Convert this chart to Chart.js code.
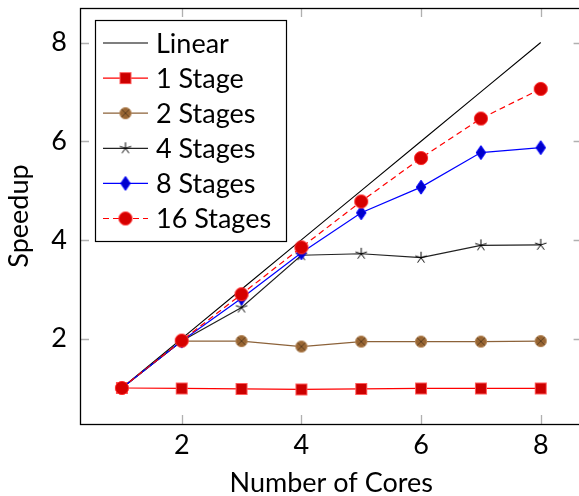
<!DOCTYPE html>
<html>
<head>
<meta charset="utf-8">
<script src="https://cdn.jsdelivr.net/npm/chart.js"></script>
<style>
  html, body { margin: 0; padding: 0; background: #fff; overflow: hidden; }
  #wrap { position: relative; width: 590px; height: 496px; }
</style>
</head>
<body>
<div id="wrap"><canvas id="myChart"></canvas></div>
<script>
// data
const cores = [1, 2, 3, 4, 5, 6, 7, 8];
const linear = [1, 2, 3, 4, 5, 6, 7, 8];
const stage1 = [1.0, 0.99, 0.98, 0.97, 0.98, 0.99, 0.99, 0.99];
const stage2 = [1.0, 1.95, 1.95, 1.84, 1.94, 1.94, 1.94, 1.95];
const stage4 = [1.0, 1.95, 2.63, 3.69, 3.72, 3.64, 3.89, 3.90];
const stage8 = [1.0, 1.95, 2.82, 3.74, 4.55, 5.07, 5.77, 5.87];
const stage16 = [1.0, 1.96, 2.90, 3.85, 4.78, 5.66, 6.46, 7.06];
const xTicks = [2, 4, 6, 8];
const yTicks = [2, 4, 6, 8];

const FONT = 'Lato';

// little canvases used as point markers (pgfplots style marks)
function marker(w, h, draw) {
  const c = document.createElement('canvas');
  c.width = w;
  c.height = h;
  draw(c.getContext('2d'), w / 2, h / 2);
  return c;
}

const squareMark = marker(14, 14, (ctx, cx, cy) => {
  ctx.fillStyle = '#cc0000';
  ctx.strokeStyle = '#ff5a5a';
  ctx.lineWidth = 1;
  ctx.fillRect(cx - 5.5, cy - 5.5, 11, 11);
  ctx.strokeRect(cx - 5.5, cy - 5.5, 11, 11);
});

const otimesMark = marker(14, 14, (ctx, cx, cy) => {
  ctx.beginPath();
  ctx.arc(cx, cy, 5.6, 0, Math.PI * 2);
  ctx.fillStyle = '#996633';
  ctx.fill();
  ctx.strokeStyle = '#b08050';
  ctx.lineWidth = 1;
  ctx.stroke();
  const d = 3.9;
  ctx.beginPath();
  ctx.moveTo(cx - d, cy - d); ctx.lineTo(cx + d, cy + d);
  ctx.moveTo(cx + d, cy - d); ctx.lineTo(cx - d, cy + d);
  ctx.strokeStyle = '#5e3f20';
  ctx.stroke();
});

const starMark = marker(14, 14, (ctx, cx, cy) => {
  ctx.strokeStyle = '#000';
  ctx.lineWidth = 1;
  ctx.beginPath();
  for (let k = 0; k < 5; k++) {
    const a = -Math.PI / 2 + k * 2 * Math.PI / 5;
    ctx.moveTo(cx, cy);
    ctx.lineTo(cx + 6 * Math.cos(a), cy + 6 * Math.sin(a));
  }
  ctx.stroke();
});

const diamondMark = marker(12, 16, (ctx, cx, cy) => {
  ctx.beginPath();
  ctx.moveTo(cx, cy - 7);
  ctx.lineTo(cx + 4.8, cy);
  ctx.lineTo(cx, cy + 7);
  ctx.lineTo(cx - 4.8, cy);
  ctx.closePath();
  ctx.fillStyle = '#0000cc';
  ctx.fill();
  ctx.strokeStyle = '#0000ff';
  ctx.lineWidth = 1;
  ctx.stroke();
});

const dotMark = marker(16, 16, (ctx, cx, cy) => {
  ctx.beginPath();
  ctx.arc(cx, cy, 6.6, 0, Math.PI * 2);
  ctx.fillStyle = '#d60000';
  ctx.fill();
  ctx.strokeStyle = '#ff3030';
  ctx.lineWidth = 1;
  ctx.stroke();
});

function pts(vals) {
  return cores.map((c, i) => ({ x: c, y: vals[i] }));
}

// frame + grey inward ticks on all four sides
const frameAndTicks = {
  id: 'frameAndTicks',
  beforeDatasetsDraw(chart) {
    const { ctx, chartArea: a, scales: { x, y } } = chart;
    ctx.save();
    ctx.strokeStyle = '#b0b0b0';
    ctx.lineWidth = 1.3;
    ctx.beginPath();
    xTicks.forEach(v => {
      const px = Math.round(x.getPixelForValue(v)) + 0.5;
      ctx.moveTo(px, a.bottom); ctx.lineTo(px, a.bottom - 9);
      ctx.moveTo(px, a.top); ctx.lineTo(px, a.top + 9);
    });
    yTicks.forEach(v => {
      const py = Math.round(y.getPixelForValue(v)) + 0.5;
      ctx.moveTo(a.left, py); ctx.lineTo(a.left + 9, py);
      ctx.moveTo(a.right, py); ctx.lineTo(a.right - 9, py);
    });
    ctx.stroke();
    ctx.strokeStyle = '#000';
    ctx.lineWidth = 1.3;
    ctx.strokeRect(a.left + 0.5, a.top + 0.5, a.width, a.height);
    ctx.restore();
  }
};

// boxed legend in the upper left of the plot
const boxLegend = {
  id: 'boxLegend',
  afterDatasetsDraw(chart) {
    const ctx = chart.ctx;
    ctx.save();
    ctx.fillStyle = '#fff';
    ctx.fillRect(95.5, 20.5, 191, 221);
    ctx.strokeStyle = '#000';
    ctx.lineWidth = 1.2;
    ctx.strokeRect(95.5, 20.5, 191, 221);
    chart.data.datasets.forEach((ds, i) => {
      const cy = 43 + i * 35.1;
      ctx.strokeStyle = ds.borderColor;
      ctx.lineWidth = ds.borderWidth;
      ctx.setLineDash(ds.borderDash || []);
      ctx.beginPath();
      ctx.moveTo(103, cy);
      ctx.lineTo(148, cy);
      ctx.stroke();
      ctx.setLineDash([]);
      const m = ds.pointStyle;
      if (m instanceof HTMLCanvasElement) {
        ctx.drawImage(m, 125.5 - m.width / 2, cy - m.height / 2);
      }
      ctx.fillStyle = '#000';
      ctx.font = '27px ' + FONT;
      ctx.textBaseline = 'middle';
      ctx.fillText(ds.label, 156, cy + 1);
    });
    ctx.restore();
  }
};

const ctxEl = document.getElementById('myChart');

new Chart(ctxEl, {
  type: 'line',
  data: {
    datasets: [
      { label: 'Linear', data: pts(linear), borderColor: '#000', borderWidth: 1.1, pointRadius: 0, order: 6 },
      { label: '1 Stage', data: pts(stage1), borderColor: '#ff0000', borderWidth: 1.2, pointStyle: squareMark, pointRadius: 6, order: 5 },
      { label: '2 Stages', data: pts(stage2), borderColor: '#8c6239', borderWidth: 1.2, pointStyle: otimesMark, pointRadius: 6, order: 4 },
      { label: '4 Stages', data: pts(stage4), borderColor: '#222', borderWidth: 1.2, pointStyle: starMark, pointRadius: 6, order: 3 },
      { label: '8 Stages', data: pts(stage8), borderColor: '#0000ff', borderWidth: 1.2, pointStyle: diamondMark, pointRadius: 6, order: 2 },
      { label: '16 Stages', data: pts(stage16), borderColor: '#ff0000', borderWidth: 1.2, borderDash: [6, 4], pointStyle: dotMark, pointRadius: 6, order: 1 }
    ]
  },
  options: {
    responsive: true,
    maintainAspectRatio: false,
    animation: false,
    layout: { padding: { top: 8, right: 7.4, left: 0, bottom: 0 } },
    plugins: { legend: { display: false }, tooltip: { enabled: false } },
    elements: { line: { tension: 0, fill: false } },
    scales: {
      x: {
        type: 'linear',
        min: 0.3,
        max: 8.7,
        afterBuildTicks: s => { s.ticks = xTicks.map(v => ({ value: v })); },
        afterFit: s => { s.height = 72; s.paddingLeft = 0; s.paddingRight = 0; },
        grid: { display: false, drawTicks: false },
        border: { display: false },
        ticks: { padding: 5, color: '#000', maxRotation: 0, font: { family: FONT, size: 27 } },
        title: { display: true, text: 'Number of Cores', color: '#000', font: { family: FONT, size: 27, lineHeight: 1 }, padding: { top: 0, bottom: -1 } }
      },
      y: {
        type: 'linear',
        min: 0.27,
        max: 8.7,
        afterBuildTicks: s => { s.ticks = yTicks.map(v => ({ value: v })); },
        afterFit: s => { s.width = 80; s.paddingTop = 0; s.paddingBottom = 0; },
        grid: { display: false, drawTicks: false },
        border: { display: false },
        ticks: { padding: 13, color: '#000', font: { family: FONT, size: 27 } },
        title: { display: true, text: 'Speedup', color: '#000', font: { family: FONT, size: 27, lineHeight: 1 }, padding: { top: 6, bottom: 0 } }
      }
    }
  },
  plugins: [frameAndTicks, boxLegend]
});
</script>
</body>
</html>
